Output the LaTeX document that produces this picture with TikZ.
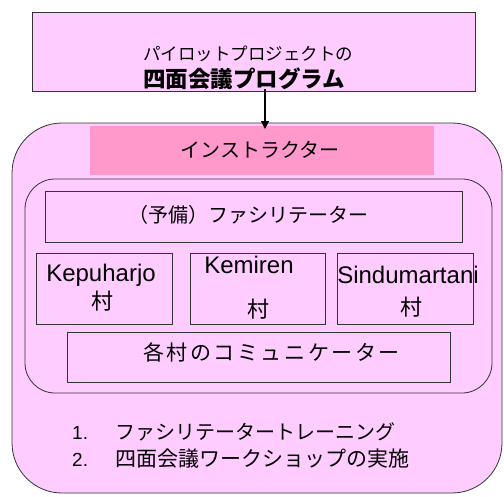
\documentclass[tikz,border=0pt]{standalone}
\usepackage{fontspec}
\setmainfont{Liberation Sans}
\newfontfamily\jp{Noto Sans CJK JP}
\usetikzlibrary{arrows.meta}
\definecolor{lpink}{HTML}{FFCCFF}
\definecolor{mpink}{HTML}{FF99CC}
\definecolor{edge}{HTML}{333333}
\begin{document}
\begin{tikzpicture}[x=1pt,y=-1pt,
  box/.style={draw=edge, line width=0.8pt, fill=lpink, inner sep=0pt},
  txt/.style={inner sep=0pt, text=black},
  jt/.style={txt, font=\jp\fontsize{20}{24}\selectfont},
  lt/.style={txt, font=\fontsize{24}{27}\selectfont}]
\useasboundingbox (0,0) rectangle (504,496);
% top box
\node[box, minimum width=443pt, minimum height=79pt] (top) at (253.5,51.5) {};
\node[txt, anchor=west, align=left] (toptxt) at (143,67.5)
  {{\jp\fontsize{17.5}{26}\selectfont パイロットプロジェクトの}\\[5pt]
   {\jp\bfseries\fontsize{22.5}{26}\selectfont 四面会議プログラム}};
% outer rounded box
\node[box, rounded corners=50pt, minimum width=490pt, minimum height=370pt] (outer) at (257,308) {};
% instructor
\node[fill=mpink, inner sep=0pt, minimum width=344pt, minimum height=49pt] (instr) at (262,150) {};
\node[jt] (instrtxt) at (260,150) {インストラクター};
% arrow
\coordinate (a0) at (265,89);
\coordinate (a1) at (265,129);
\draw[line width=1.2pt, -{Triangle[length=8pt,width=8pt]}] (a0) -- (a1);
% inner rounded box
\node[box, rounded corners=30pt, minimum width=467pt, minimum height=214pt] (inner) at (258.5,286) {};
% facilitator
\node[box, minimum width=417pt, minimum height=51pt] (fac) at (253.5,216.5) {};
\node[jt] (factxt) at (248.5,215) {（予備）ファシリテーター};
% villages
\node[box, minimum width=136pt, minimum height=71pt] (kep) at (104,288.5) {};
\node[box, minimum width=135pt, minimum height=71pt] (kem) at (257.5,288.5) {};
\node[box, minimum width=136pt, minimum height=71pt] (sin) at (405,288.5) {};
\node[lt] (kepA) at (101,275) {Kepuharjo};
\node[jt, font=\jp\fontsize{22}{24}\selectfont] (kepB) at (102,301) {村};
\node[lt] (kemA) at (249,265) {Kemiren};
\node[jt, font=\jp\fontsize{22}{24}\selectfont] (kemB) at (258,309) {村};
\node[lt] (sinA) at (408,275) {Sindumartani};
\node[jt, font=\jp\fontsize{22}{24}\selectfont] (sinB) at (411,307) {村};
% communicator
\node[box, minimum width=383pt, minimum height=50pt] (com) at (258.5,357) {};
\node[jt, font=\jp\fontsize{21}{24}\selectfont\addfontfeatures{LetterSpace=12}] (comtxt) at (271.5,352) {各村のコミュニケーター};
% list
\node[txt, anchor=west, align=left, font=\fontsize{19}{27}\selectfont] (list) at (72,445.5)
  {\makebox[43pt][l]{1.}{\jp\fontsize{20}{27}\selectfont ファシリテータートレーニング}\\
   \makebox[43pt][l]{2.}{\jp\fontsize{21}{27}\selectfont 四面会議ワークショップの実施}};
\end{tikzpicture}
\end{document}
